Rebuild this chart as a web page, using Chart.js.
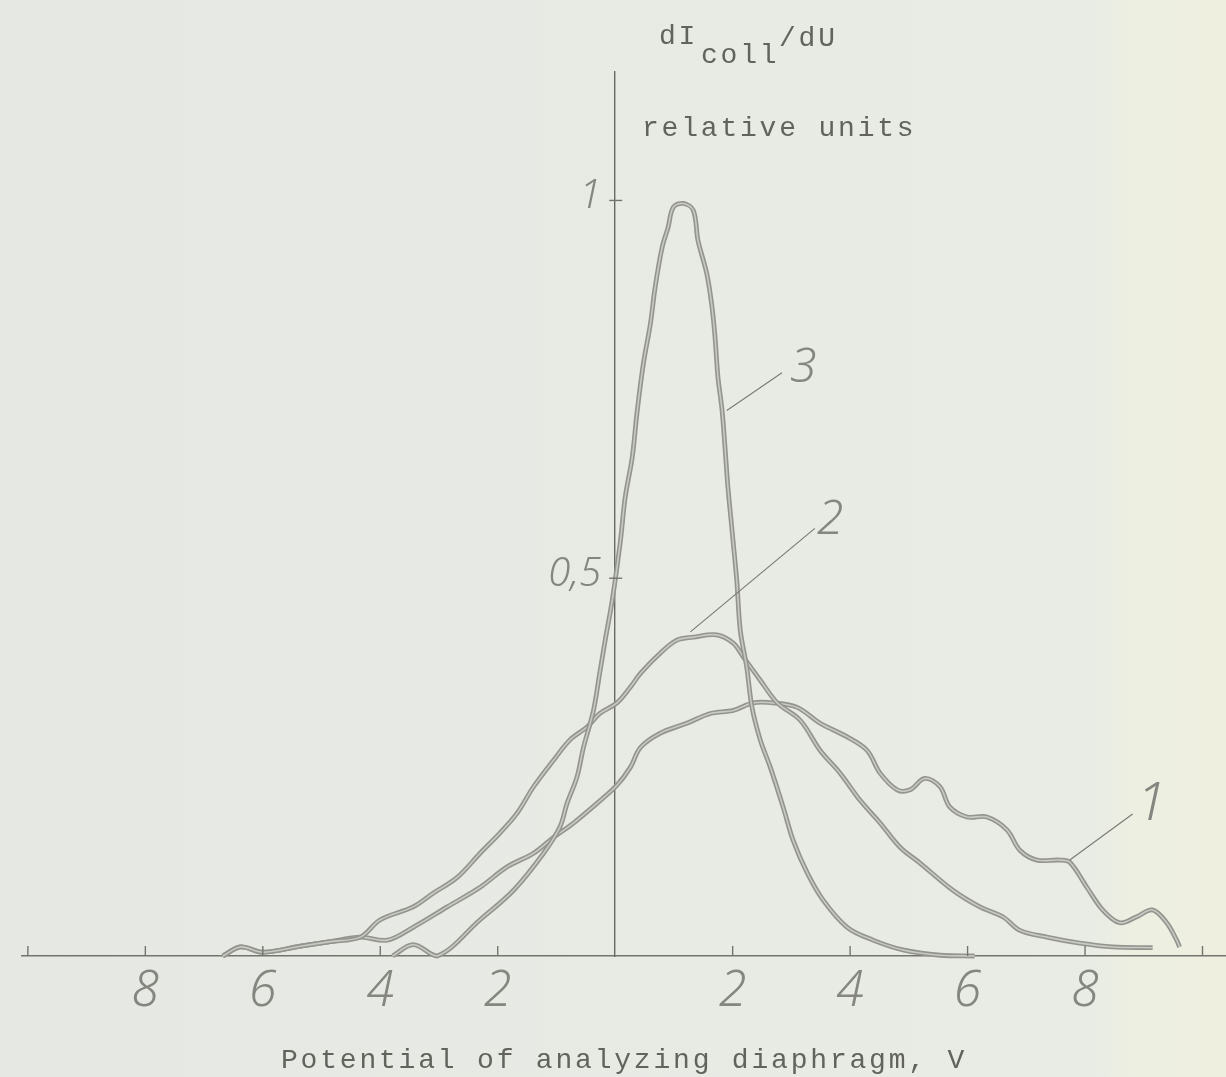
<!DOCTYPE html>
<html>
<head>
<meta charset="utf-8">
<script src="https://cdn.jsdelivr.net/npm/chart.js@4.4.0/dist/chart.umd.min.js"></script>
<style>
  html, body { margin: 0; padding: 0; background: #e8ebe5; }
  #wrap { width: 1226px; height: 1077px; }
</style>
</head>
<body>
<div id="wrap"><canvas id="curves" width="1226" height="1077"></canvas></div>
<script>
// potential of analyzing diaphragm (V) and dI_coll/dU (relative units)
const curve1U = [-6.68, -6.38, -6.00, -5.36, -4.85, -4.34, -3.88, -3.44, -2.86, -2.30, -1.84, -1.39, -1.05, -0.71, -0.31, 0.03, 0.26, 0.43, 0.77, 1.22, 1.62, 2.01, 2.35, 2.69, 3.10, 3.49, 3.95, 4.29, 4.51, 4.80, 5.02, 5.27, 5.53, 5.70, 5.99, 6.33, 6.67, 6.89, 7.18, 7.57, 7.74, 8.03, 8.30, 8.59, 8.88, 9.15, 9.39, 9.56, 9.61];
const curve1I = [0.000, 0.012, 0.005, 0.013, 0.019, 0.025, 0.021, 0.038, 0.065, 0.091, 0.118, 0.136, 0.157, 0.176, 0.202, 0.226, 0.250, 0.276, 0.295, 0.308, 0.321, 0.325, 0.335, 0.335, 0.329, 0.308, 0.290, 0.272, 0.242, 0.220, 0.220, 0.235, 0.224, 0.197, 0.184, 0.184, 0.167, 0.140, 0.127, 0.127, 0.124, 0.091, 0.061, 0.044, 0.052, 0.061, 0.044, 0.021, 0.012];

const curve2U = [-6.68, -6.38, -6.00, -5.36, -4.85, -4.34, -4.00, -3.44, -3.10, -2.69, -2.30, -1.96, -1.67, -1.39, -1.05, -0.77, -0.48, -0.26, 0.03, 0.26, 0.43, 0.77, 1.05, 1.33, 1.73, 2.01, 2.18, 2.47, 2.76, 3.15, 3.49, 3.83, 4.17, 4.51, 4.85, 5.19, 5.75, 6.21, 6.60, 6.89, 7.35, 7.91, 8.47, 9.15];
const curve2I = [0.000, 0.012, 0.005, 0.013, 0.019, 0.025, 0.048, 0.065, 0.083, 0.104, 0.136, 0.163, 0.189, 0.224, 0.259, 0.286, 0.303, 0.321, 0.335, 0.356, 0.374, 0.401, 0.418, 0.422, 0.425, 0.414, 0.396, 0.365, 0.335, 0.312, 0.272, 0.242, 0.206, 0.176, 0.144, 0.123, 0.087, 0.065, 0.052, 0.034, 0.025, 0.017, 0.012, 0.011];

const curve3U = [-3.79, -3.44, -3.03, -2.30, -1.73, -1.22, -0.94, -0.82, -0.65, -0.54, -0.37, -0.26, -0.17, -0.05, 0.09, 0.17, 0.29, 0.37, 0.48, 0.60, 0.68, 0.80, 0.90, 0.99, 1.16, 1.33, 1.41, 1.56, 1.65, 1.70, 1.75, 1.82, 1.87, 1.92, 1.99, 2.07, 2.13, 2.24, 2.33, 2.47, 2.64, 2.86, 3.03, 3.27, 3.54, 3.95, 4.39, 4.90, 5.53, 6.12];
const curve3I = [0.000, 0.015, 0.000, 0.048, 0.087, 0.136, 0.171, 0.202, 0.237, 0.276, 0.325, 0.376, 0.418, 0.471, 0.550, 0.607, 0.660, 0.718, 0.784, 0.837, 0.885, 0.938, 0.964, 0.991, 0.996, 0.987, 0.947, 0.903, 0.858, 0.819, 0.766, 0.722, 0.673, 0.620, 0.563, 0.497, 0.431, 0.382, 0.329, 0.286, 0.250, 0.197, 0.153, 0.110, 0.074, 0.038, 0.021, 0.008, 0.001, 0.000];

const curveNames = ['1', '2', '3'];
const xTicks = [-10, -8, -6, -4, -2, 0, 2, 4, 6, 8, 10];
const yTicks = [0.5, 1];
const yTickLabels = ['0,5', '1'];

const axisColor = '#73746d';
const handColor = '#858680';
const typeColor = '#62635d';
const handFont = size => 'italic 300 ' + size + 'px "Noto Sans", "DejaVu Sans", sans-serif';

function pts(us, is) {
  return us.map((u, k) => ({ x: u, y: is[k] }));
}

// number callouts: leader from curve to label, in data units
const callouts = [
  { label: '3', from: [1.90, 0.722], to: [2.84, 0.772], at: [3.20, 0.778], size: 48 },
  { label: '2', from: [1.28, 0.429], to: [3.40, 0.566], at: [3.66, 0.577], size: 48 },
  { label: '1', from: [7.74, 0.127], to: [8.81, 0.188], at: [9.13, 0.200], size: 54 }
];

const paper = {
  id: 'paper',
  beforeDraw(chart) {
    const { ctx, width, height } = chart;
    const g = ctx.createLinearGradient(0, 0, width, 0);
    g.addColorStop(0, '#e6e9e3');
    g.addColorStop(0.89, '#e9ece5');
    g.addColorStop(0.925, '#edefe1');
    g.addColorStop(1, '#eeefdf');
    ctx.save();
    ctx.fillStyle = g;
    ctx.fillRect(0, 0, width, height);
    ctx.restore();
  }
};

const marks = {
  id: 'marks',
  afterDraw(chart) {
    const { ctx } = chart;
    const xs = chart.scales.x, ys = chart.scales.y;
    const x0 = xs.getPixelForValue(0), y0 = ys.getPixelForValue(0);
    const line = (a, b, c, d) => { ctx.beginPath(); ctx.moveTo(a, b); ctx.lineTo(c, d); ctx.stroke(); };

    ctx.save();
    ctx.strokeStyle = axisColor;
    ctx.lineWidth = 1.4;
    xs.ticks.forEach(t => {
      if (t.value === 0) return;
      const px = xs.getPixelForValue(t.value);
      line(px, y0, px, y0 - 10);
    });
    ys.ticks.forEach(t => {
      const py = ys.getPixelForValue(t.value);
      line(x0 - 6, py, x0 + 7, py);
    });

    // y tick labels, left of the axis
    ctx.fillStyle = handColor;
    ctx.textAlign = 'right';
    ctx.textBaseline = 'middle';
    ctx.font = handFont(40);
    ys.ticks.forEach(t => {
      ctx.fillText(t.label, x0 - 14, ys.getPixelForValue(t.value) - 4);
    });

    // curve numbers with leaders
    ctx.strokeStyle = '#7b7c76';
    ctx.lineWidth = 1.2;
    ctx.textAlign = 'center';
    callouts.forEach(c => {
      line(xs.getPixelForValue(c.from[0]), ys.getPixelForValue(c.from[1]),
           xs.getPixelForValue(c.to[0]), ys.getPixelForValue(c.to[1]));
      ctx.font = handFont(c.size);
      ctx.fillText(c.label, xs.getPixelForValue(c.at[0]), ys.getPixelForValue(c.at[1]));
    });

    // typewritten captions
    ctx.fillStyle = typeColor;
    ctx.textAlign = 'left';
    ctx.textBaseline = 'alphabetic';
    ctx.font = '28px "Liberation Mono", "DejaVu Sans Mono", monospace';
    ctx.letterSpacing = '2.8px';
    ctx.fillText('dI', 659, 44);
    ctx.fillText('coll', 701, 63);
    ctx.fillText('/dU', 779, 46);
    ctx.fillText('relative units', 642, 136);
    ctx.fillText('Potential of analyzing diaphragm, V', 281, 1068);
    ctx.restore();
  }
};

const datasets = [];
[pts(curve1U, curve1I), pts(curve2U, curve2I), pts(curve3U, curve3I)].forEach((d, k) => {
  const common = { data: d, pointRadius: 0, tension: 0.35, fill: false, clip: false };
  datasets.push(Object.assign({ label: 'curve ' + curveNames[k], borderColor: '#93948e', borderWidth: 4.8, order: 10 - 2 * k }, common));
  datasets.push(Object.assign({ label: 'curve ' + curveNames[k] + ' core', borderColor: '#c8c9c2', borderWidth: 1.6, order: 9 - 2 * k }, common));
});

new Chart(document.getElementById('curves').getContext('2d'), {
  type: 'line',
  data: { datasets: datasets },
  options: {
    responsive: false,
    animation: false,
    events: [],
    layout: { padding: { left: 22, right: 0, top: 72, bottom: 121 } },
    plugins: { legend: { display: false }, tooltip: { enabled: false } },
    scales: {
      x: {
        type: 'linear',
        min: -10.1,
        max: 10.4,
        position: { y: 0 },
        afterBuildTicks: s => { s.ticks = xTicks.map(v => ({ value: v })); },
        grid: { display: false, drawTicks: false },
        border: { display: true, color: axisColor, width: 1.5 },
        ticks: {
          autoSkip: false,
          maxRotation: 0,
          padding: 6,
          color: handColor,
          font: { family: '"Noto Sans", "DejaVu Sans", sans-serif', size: 50, style: 'italic', weight: 300, lineHeight: 1.2 },
          callback: v => (v === 0 || Math.abs(v) >= 10) ? '' : String(Math.abs(v))
        }
      },
      y: {
        type: 'linear',
        min: 0,
        max: 1.17,
        position: { x: 0 },
        afterBuildTicks: s => { s.ticks = yTicks.map(v => ({ value: v })); },
        grid: { display: false, drawTicks: false },
        border: { display: true, color: '#686963', width: 1.4 },
        ticks: {
          display: false,
          callback: v => yTickLabels[yTicks.indexOf(v)]
        }
      }
    }
  },
  plugins: [paper, marks]
});
</script>
</body>
</html>
